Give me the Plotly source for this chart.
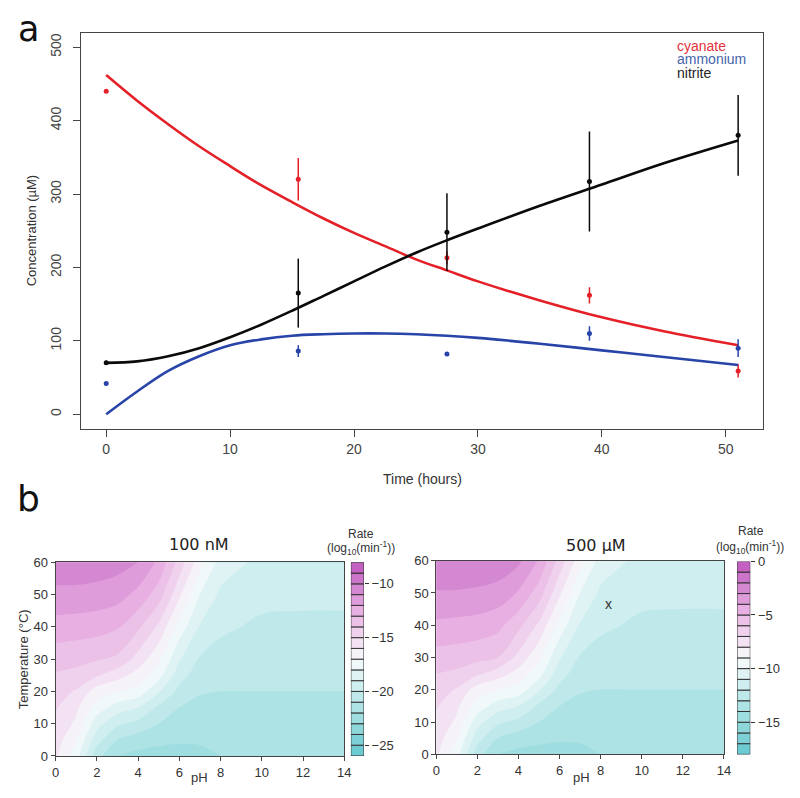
import plotly.graph_objects as go

# ---- panel a: measured points (time in hours, concentration in uM) ----
t_obs = [0, 15.5, 27.5, 39, 51]
cyanate = [440, 320, 213, 162, 59]
cyanate_err = [0, 29, 9, 11, 9]
ammonium = [42, 86, 82, 110, 90]
ammonium_err = [0, 8, 0, 10, 12]
nitrite = [70, 165, 248, 317, 380]
nitrite_err = [3, 47, 53, 68, 55]

# fitted curves
t_fit = [0, 2.5, 5, 7.5, 10, 12.5, 15, 17.5, 20, 22.5, 25, 27.5, 30, 35, 40, 45, 51]
cyanate_fit = [462, 427, 395, 365, 338, 312, 289, 267, 247, 229, 211, 196, 181, 155, 132, 113, 94]
ammonium_fit = [0, 31, 59, 79, 94, 102, 107, 109, 110, 110, 109, 107, 104, 96, 87, 78, 67]
nitrite_fit = [70, 72, 79, 90, 105, 122, 141, 161, 181, 201, 220, 237, 253, 284, 313, 342, 373]

# ---- panel b: rate maps, log10(min^-1) ----
ph = [0, 1, 2, 3, 4, 5, 6, 7, 8, 10, 12, 14]
temp = [0, 5, 10, 15, 20, 25, 30, 40, 50, 60]
rate_100nM = [
    [-15.8, -17.6, -20.6, -22.0, -22.3, -22.3, -22.3, -22.2, -22.0, -21.8, -21.8, -21.8],
    [-15.5, -16.9, -19.6, -21.0, -21.5, -21.8, -21.9, -21.9, -21.8, -21.6, -21.6, -21.6],
    [-15.2, -16.2, -18.6, -19.8, -20.3, -21.0, -21.5, -21.6, -21.5, -21.4, -21.4, -21.4],
    [-14.9, -15.8, -17.4, -18.5, -19.0, -20.2, -21.0, -21.3, -21.3, -21.2, -21.2, -21.2],
    [-14.6, -15.1, -16.5, -17.0, -17.4, -18.9, -20.3, -20.9, -21.0, -21.0, -21.0, -21.0],
    [-14.1, -14.3, -14.9, -15.6, -16.4, -17.6, -19.6, -20.5, -20.7, -20.8, -20.8, -20.8],
    [-13.6, -13.7, -13.9, -14.2, -15.4, -16.8, -18.9, -20.1, -20.4, -20.6, -20.6, -20.6],
    [-12.4, -12.5, -12.6, -12.9, -13.8, -15.2, -17.4, -19.1, -19.8, -20.2, -20.2, -20.2],
    [-11.3, -11.3, -11.4, -11.6, -12.3, -13.5, -15.8, -18.0, -19.2, -19.7, -19.8, -19.8],
    [-10.3, -10.3, -10.4, -10.6, -11.0, -12.2, -14.4, -16.6, -18.4, -19.3, -19.4, -19.4],
]
rate_500uM = [
    [-7.8, -9.6, -12.6, -14.0, -14.3, -14.3, -14.3, -14.2, -14.0, -13.8, -13.8, -13.8],
    [-7.5, -8.9, -11.6, -13.0, -13.5, -13.8, -13.9, -13.9, -13.8, -13.6, -13.6, -13.6],
    [-7.2, -8.2, -10.6, -11.8, -12.3, -13.0, -13.5, -13.6, -13.5, -13.4, -13.4, -13.4],
    [-6.9, -7.8, -9.4, -10.5, -11.0, -12.2, -13.0, -13.3, -13.3, -13.2, -13.2, -13.2],
    [-6.5, -7.1, -8.5, -9.0, -9.4, -10.9, -12.3, -12.9, -13.0, -13.0, -13.0, -13.0],
    [-6.0, -6.2, -6.8, -7.5, -8.4, -9.6, -11.6, -12.5, -12.7, -12.8, -12.8, -12.8],
    [-5.4, -5.5, -5.7, -6.0, -7.3, -8.8, -10.9, -12.1, -12.4, -12.6, -12.6, -12.6],
    [-4.2, -4.3, -4.4, -4.7, -5.7, -7.2, -9.4, -11.1, -11.8, -12.2, -12.2, -12.2],
    [-3.1, -3.1, -3.2, -3.4, -4.1, -5.5, -7.8, -10.0, -11.2, -11.7, -11.8, -11.8],
    [-2.0, -2.0, -2.1, -2.3, -2.8, -4.1, -6.4, -8.6, -10.4, -11.3, -11.4, -11.4],
]
levels_100nM = list(range(-26, -7))   # -26 .. -8
levels_500uM = list(range(-18, 1))    # -18 .. 0
ticks_100nM = [-10, -15, -20, -25]
ticks_500uM = [0, -5, -10, -15]
marker_x = [8.4]
marker_t = [46.6]

RED = "rgb(228,32,40)"
BLUE = "rgb(40,68,168)"
BLACK = "rgb(10,10,10)"
AX = "#444444"
FONT = "Liberation Sans, Arial, sans-serif"
W, H = 800, 798

cscale = [[0, "rgb(100,200,206)"], [0.25, "rgb(174,227,229)"], [0.5, "rgb(248,251,251)"],
          [0.75, "rgb(232,176,226)"], [1, "rgb(190,86,190)"]]


def px(x, y):
    return x / W, 1 - y / H


fig = go.Figure()

# panel a
for tf, yf, yo, err, col in [(t_fit, cyanate_fit, cyanate, cyanate_err, RED),
                             (t_fit, ammonium_fit, ammonium, ammonium_err, BLUE),
                             (t_fit, nitrite_fit, nitrite, nitrite_err, BLACK)]:
    fig.add_trace(go.Scatter(x=tf, y=yf, mode="lines", line=dict(color=col, width=2.6, shape="spline"),
                             xaxis="x", yaxis="y", showlegend=False, hoverinfo="skip"))
    fig.add_trace(go.Scatter(x=t_obs, y=yo, mode="markers", marker=dict(color=col, size=5),
                             error_y=dict(type="data", array=err, width=0, thickness=1.5, color=col),
                             xaxis="x", yaxis="y", showlegend=False))


def rate_map(z, levels, xa, ya):
    return go.Contour(x=ph, y=temp, z=z, xaxis=xa, yaxis=ya, colorscale=cscale,
                      zauto=False, zmin=levels[0], zmax=levels[-1], showscale=False,
                      contours=dict(start=levels[0], end=levels[-1], size=1,
                                    coloring="fill", showlines=False),
                      line=dict(width=0, smoothing=1.0))


def color_key(levels, xa, ya):
    mids = [l + 0.5 for l in levels[:-1]]
    return go.Bar(x=[0] * len(mids), y=[1] * len(mids), base=levels[:-1], width=1,
                  xaxis=xa, yaxis=ya, showlegend=False, hoverinfo="skip",
                  marker=dict(color=mids, colorscale=cscale, cmin=levels[0], cmax=levels[-1],
                              line=dict(color="#333333", width=1)))


fig.add_trace(rate_map(rate_100nM, levels_100nM, "x2", "y2"))
fig.add_trace(color_key(levels_100nM, "x3", "y3"))
fig.add_trace(rate_map(rate_500uM, levels_500uM, "x4", "y4"))
fig.add_trace(color_key(levels_500uM, "x5", "y5"))

frame = dict(showline=True, mirror=True, linecolor=AX, linewidth=1, ticks="outside",
             tickcolor=AX, showgrid=False, zeroline=False, tickfont=dict(size=13, color="#333333"))

fig.update_layout(
    width=W, height=H, margin=dict(l=0, r=0, t=0, b=0),
    paper_bgcolor="white", plot_bgcolor="white", font=dict(family=FONT, color="#333333"),
    barmode="overlay",
    xaxis=dict(frame, domain=[78 / W, 770 / W], range=[-2.04, 53.04], tickvals=[0, 10, 20, 30, 40, 50],
               ticklen=7, anchor="y", tickfont=dict(size=14, color="#444444")),
    yaxis=dict(frame, domain=[1 - 430 / H, 1 - 26 / H], range=[-20, 520], tickvals=[0, 100, 200, 300, 400, 500],
               ticklen=7, tickangle=-90, anchor="x", ticklabelstandoff=6,
               tickfont=dict(size=14, color="#444444")),
    xaxis2=dict(frame, domain=[52.3 / W, 345 / W], range=[0, 14], dtick=2, ticklen=4, anchor="y2"),
    yaxis2=dict(frame, domain=[1 - 763.3 / H, 1 - 566 / H], range=[0, 60], dtick=10, ticklen=4, anchor="x2"),
    xaxis3=dict(domain=[351.7 / W, 365 / W], range=[-0.5, 0.5], visible=False, anchor="y3"),
    yaxis3=dict(domain=[1 - 763.3 / H, 1 - 566 / H], range=[levels_100nM[0], levels_100nM[-1]],
                tickvals=ticks_100nM, side="right", anchor="x3", ticks="outside", ticklen=4,
                tickcolor="#333333", showgrid=False, zeroline=False, showline=False,
                tickfont=dict(size=13, color="#333333")),
    xaxis4=dict(frame, domain=[438.3 / W, 730 / W], range=[0, 14], dtick=2, ticklen=4, anchor="y4"),
    yaxis4=dict(frame, domain=[1 - 761.7 / H, 1 - 564.3 / H], range=[0, 60], dtick=10, ticklen=4, anchor="x4"),
    xaxis5=dict(domain=[743.3 / W, 756.7 / W], range=[-0.5, 0.5], visible=False, anchor="y5"),
    yaxis5=dict(domain=[1 - 761.7 / H, 1 - 565 / H], range=[levels_500uM[0], levels_500uM[-1]],
                tickvals=ticks_500uM, side="right", anchor="x5", ticks="outside", ticklen=4,
                tickcolor="#333333", showgrid=False, zeroline=False, showline=False,
                tickfont=dict(size=13, color="#333333")),
)

ann = []


def label(x, y, text, size=13, color="#333333", family=FONT, angle=0, xanchor="center", yanchor="middle"):
    ax, ay = px(x, y)
    ann.append(dict(x=ax, y=ay, xref="paper", yref="paper", text=text, showarrow=False,
                    font=dict(size=size, color=color, family=family), textangle=angle,
                    xanchor=xanchor, yanchor=yanchor))


label(25, 0, "a", size=35, color="#111111", family="DejaVu Sans", yanchor="top")
label(25, 501, "b", size=36, color="#111111", family="DejaVu Sans")
label(680, 39.5, "cyanate", size=14, color="rgb(225,50,60)", xanchor="left")
label(680, 53.5, "ammonium", size=14, color="rgb(70,100,170)", xanchor="left")
label(680, 67.5, "nitrite", size=14, color="#222222", xanchor="left")
label(28, 228, "Concentration (µM)", size=13, angle=-90)
label(424, 481, "Time (hours)", size=14)
label(198, 548, "100 nM", size=16, color="#222222", family="DejaVu Sans")
label(600, 549, "500 µM", size=16, color="#222222", family="DejaVu Sans")
label(362, 537, "Rate", size=12)
label(362, 551, "(log<sub>10</sub>(min<sup>-1</sup>))", size=12)
label(757, 534, "Rate", size=12)
label(756, 550, "(log<sub>10</sub>(min<sup>-1</sup>))", size=12)
label(20, 665, "Temperature (°C)", size=13, angle=-90)
label(198, 785, "pH", size=13)
label(586, 785, "pH", size=13)

ann.append(dict(x=marker_x[0], y=marker_t[0], xref="x4", yref="y4", text="x", showarrow=False,
                font=dict(size=14, color="#333333", family=FONT)))

fig.update_layout(annotations=ann)
# drop the default page margin so the 800x798 figure fills the window exactly
fig.write_html("out.html", config={"displayModeBar": False},
               post_script="document.body.style.margin='0';")
